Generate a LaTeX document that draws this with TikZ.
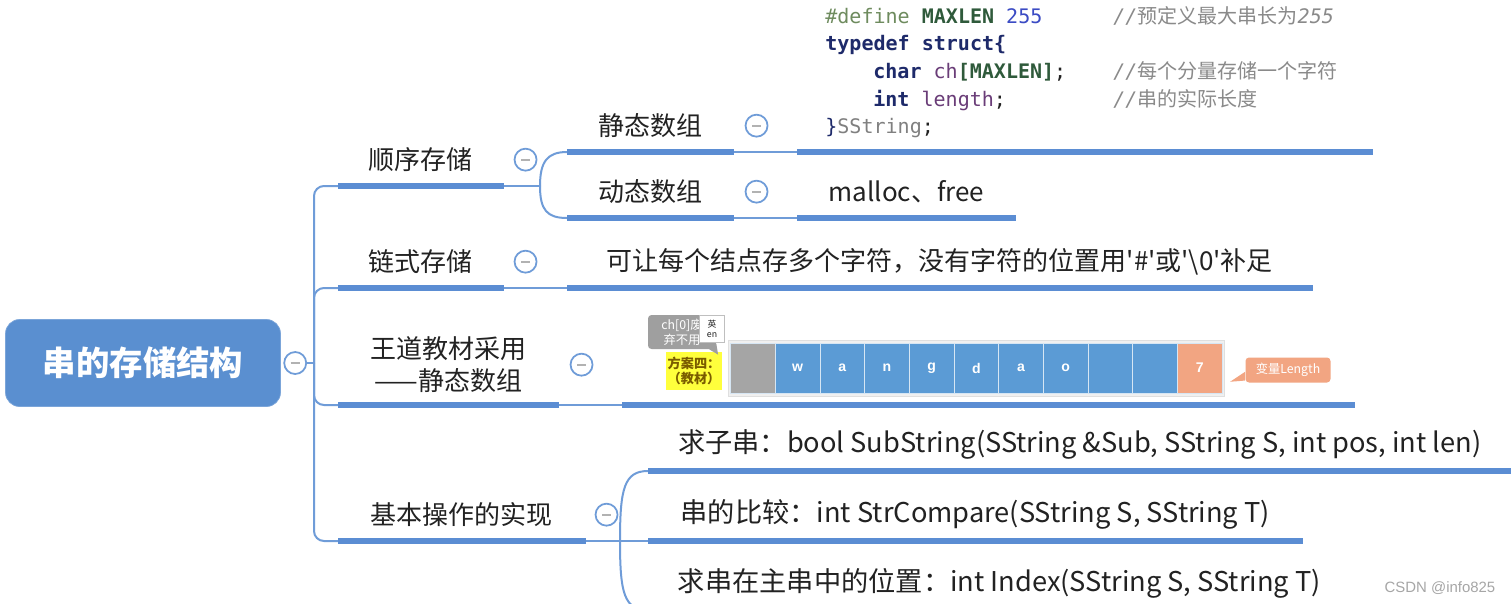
\documentclass[tikz,border=0pt]{standalone}
\usepackage{fontspec}
\setmainfont{Noto Sans CJK SC}
\setsansfont{Liberation Sans}
\setmonofont{DejaVu Sans Mono}
\newfontfamily\mapfont{Noto Sans CJK SC}
\usetikzlibrary{positioning}

\definecolor{mapblue}{HTML}{5B8DD3}
\definecolor{linkblue}{HTML}{6F9CD8}
\definecolor{rootblue}{HTML}{5A8FD0}
\definecolor{inktext}{HTML}{222222}
\definecolor{cdef}{HTML}{6E8B5E}
\definecolor{cmac}{HTML}{2F5A3B}
\definecolor{cnum}{HTML}{3B4BC4}
\definecolor{ckey}{HTML}{1E2A6A}
\definecolor{cvar}{HTML}{6A3D78}
\definecolor{ccmt}{HTML}{8A8A8A}
\definecolor{cellgray}{HTML}{A5A5A5}
\definecolor{cellblue}{HTML}{5B9BD5}
\definecolor{cellorange}{HTML}{F2A582}
\definecolor{tagyellow}{HTML}{FFFF3C}
\definecolor{tagbrown}{HTML}{7A5C00}

\newcommand\codecmt[1]{{\color{ccmt}\ttfamily\itshape //}{\color{ccmt}#1}}

\begin{document}
\begin{tikzpicture}[
  x=0.02cm, y=-0.02cm,
  font=\mapfont\fontsize{14.8}{18}\selectfont,
  text=inktext,
  root/.style={
    rectangle,
    rounded corners=0.28cm,
    fill=rootblue,
    draw=rootblue!80!white,
    minimum width=5.5cm,
    minimum height=1.74cm,
    text=white,
    font=\mapfont\fontsize{19}{22}\selectfont\bfseries
  },
  fold/.style={
    circle,
    draw=linkblue,
    line width=1pt,
    fill=white,
    minimum size=0.44cm,
    inner sep=0pt,
    path picture={\draw[gray!60, line width=1pt]
      ([xshift=-0.09cm]path picture bounding box.center) --
      ([xshift=0.09cm]path picture bounding box.center);}
  },
  topic/.style={
    rectangle,
    anchor=south west,
    inner sep=0pt,
    minimum height=1.04cm,
    align=center
  },
  optopic/.style={
    topic,
    font=\mapfont\fontsize{15.5}{18}\selectfont
  },
  codeline/.style={
    anchor=base west,
    inner sep=0pt,
    font=\fontsize{11.4}{14}\selectfont\ttfamily
  },
  cmtline/.style={
    anchor=base west,
    inner sep=0pt,
    font=\mapfont\fontsize{11.4}{14}\selectfont
  },
  cell/.style={
    rectangle,
    draw=white!75!cellblue,
    line width=0.4pt,
    minimum width=0.893cm,
    minimum height=1.0cm,
    inner sep=0pt,
    text=white,
    font=\sffamily\fontsize{8}{9}\selectfont\bfseries
  },
  bubble/.style={
    rectangle,
    rounded corners=2pt,
    align=center,
    inner sep=1pt,
    text=white,
    font=\mapfont\fontsize{7}{8.5}\selectfont
  },
  bar/.style={draw=mapblue, line width=0.12cm},
  link/.style={draw=linkblue, line width=0.04cm}
]

\useasboundingbox (0,0) rectangle (1511,603);
\fill[white] (0,0) rectangle (1511,603);

% root and first level
\node[root] (root) at (143,363) {串的存储结构};
\node[fold, right=0.05cm of root] (f0) {};
\coordinate (trunk) at (314,363);

\node[topic, minimum width=3.3cm] (t1) at (338,186) {顺序存储};
\node[topic, minimum width=3.3cm] (t2) at (338,288) {链式存储};
\node[topic, minimum width=4.4cm, minimum height=1.6cm] (t3) at (338,405) {王道教材采用\\——静态数组};
\node[topic, minimum width=4.94cm] (t4) at (338,541) {基本操作的实现};

\node[fold, right=0.2cm of t1] (f1) {};
\node[fold, right=0.2cm of t2] (f2) {};
\node[fold, right=0.22cm of t3] (f3) {};
\node[fold, right=0.18cm of t4] (f4) {};

% second level
\node[topic, minimum width=3.32cm] (s1) at (567,152) {静态数组};
\node[topic, minimum width=3.32cm] (s2) at (567,218) {动态数组};
\node[fold, right=0.22cm of s1] (f11) {};
\node[fold, right=0.22cm of s2] (f12) {};
\node[topic, minimum width=4.36cm] (m2) at (797,218) {malloc、free};
\node[topic, minimum width=14.9cm] (l2) at (567,288) {可让每个结点存多个字符，没有字符的位置用'\#'或'\textbackslash 0'补足};

\node[optopic, minimum width=17.26cm] (o1) at (648,471) {求子串：bool SubString(SString \&Sub, SString S, int pos, int len)};
\node[optopic, minimum width=13.08cm] (o2) at (648,541) {串的比较：int StrCompare(SString S, SString T)};
\node[optopic, minimum width=14.04cm] (o3) at (648,610) {求串在主串中的位置：int Index(SString S, SString T)};

% code block
\coordinate (cbarA) at (797,152);
\coordinate (cbarB) at (1373,152);
\node[codeline] (code1) at (825,23) {{\color{cdef}\#define} {\color{cmac}\bfseries MAXLEN} {\color{cnum}255}};
\node[codeline] (code2) at (825,50) {{\color{ckey}\bfseries typedef struct\{}};
\node[codeline] (code3) at (873,78) {{\color{ckey}\bfseries char} {\color{cvar}ch}{\color{cmac}\bfseries [MAXLEN]};};
\node[codeline] (code4) at (873,106) {{\color{ckey}\bfseries int} {\color{cvar}length};};
\node[codeline] (code5) at (825,133) {{\color{ckey}\}}{\color{gray}SString};};
\node[cmtline] (cmt1) at (1113,23) {\codecmt{预定义最大串长为{\ttfamily\itshape 255}}};
\node[cmtline] (cmt3) at (1113,78) {\codecmt{每个分量存储一个字符}};
\node[cmtline] (cmt4) at (1113,106) {\codecmt{串的实际长度}};

% array picture
\coordinate (abarA) at (622,405);
\coordinate (abarB) at (1355,405);
\node[draw=gray!25, fill=gray!12, minimum width=9.92cm, minimum height=1.12cm] (frame) at (976,368) {};
\node[cell, fill=cellgray] (c0) at (753,368) {};
\foreach \ch [count=\i] in {w,a,n,g,d,a,o,{},{}}
  \node[cell, fill=cellblue] (c\i) at ({753+44.67*\i},368) {\ch};
\node[cell, fill=cellorange] (len) at (1199.7,368) {7};

\node[fill=tagyellow, text=tagbrown, align=center, inner sep=1pt, minimum width=1.1cm, minimum height=0.76cm,
  font=\mapfont\fontsize{7.5}{9}\selectfont\bfseries] (scheme) at (694,371) {方案四：\\（教材）};
\node[bubble, fill=gray!75, minimum width=1.36cm, minimum height=0.68cm] (waste) at (682,332) {ch[0]废\\弃不用};
\fill[gray!75] ([xshift=-4pt]waste.south east) -- ++(5pt,-3pt) -- ([yshift=3pt]waste.south east) -- cycle;
\node[draw=gray!50, fill=white, inner sep=0.5pt, minimum width=0.5cm, minimum height=0.54cm, align=center,
  font=\mapfont\fontsize{5}{5.5}\selectfont] (ime) at (712,329) {英\\en};
\node[bubble, fill=cellorange, minimum width=1.7cm, minimum height=0.5cm] (lenlabel) at (1288,370) {变量Length};
\fill[cellorange] ([yshift=-1pt]lenlabel.west) -- ++(-0.3cm,-0.2cm) -- ([yshift=-6pt]lenlabel.west) -- cycle;

% connectors
\draw[link] (f0.east) -- (trunk);
\foreach \n in {t1,t2,t3,t4}
  \draw[link, rounded corners=0.2cm] (trunk) |- (\n.south west);

\coordinate (j1) at (540,186);
\draw[link] (t1.south east) -- (j1);
\draw[link] (j1) .. controls +(0,-24) and +(-20,0) .. (s1.south west);
\draw[link] (j1) .. controls +(0,24) and +(-20,0) .. (s2.south west);
\draw[link] (s1.south east) -- (cbarA);
\draw[link] (s2.south east) -- (m2.south west);
\draw[link] (t2.south east) -- (l2.south west);
\draw[link] (t3.south east) -- (abarA);

\coordinate (j4) at (620,541);
\draw[link] (t4.south east) -- (o2.south west);
\draw[link] (j4) .. controls +(0,-52) and +(-24,0) .. (o1.south west);
\draw[link] (j4) .. controls +(0,52) and +(-24,0) .. (o3.south west);

\foreach \n in {t1,t2,t3,t4,s1,s2,m2,l2,o1,o2,o3}
  \draw[bar] (\n.south west) -- (\n.south east);
\draw[bar] (cbarA) -- (cbarB);
\draw[bar] (abarA) -- (abarB);

\node[font=\sffamily\fontsize{8.5}{10}\selectfont, text=gray!70] (mark) at (1440,588) {CSDN @info825};

\end{tikzpicture}
\end{document}
